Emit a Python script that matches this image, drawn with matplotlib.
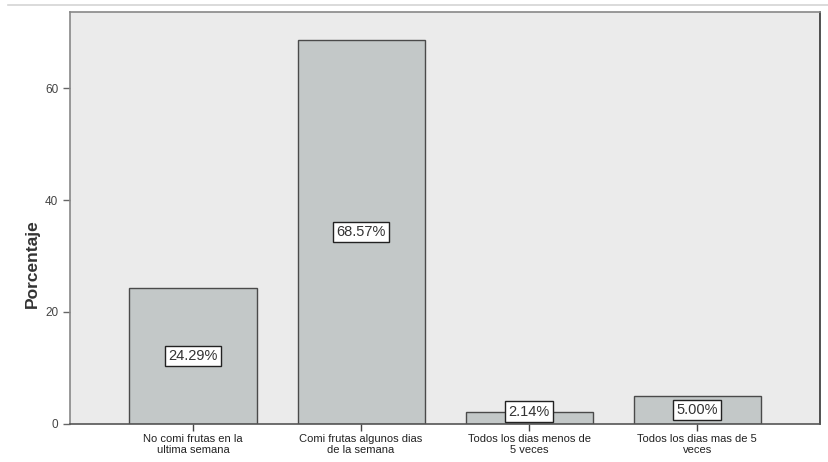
import matplotlib
matplotlib.use('Agg')
import matplotlib.pyplot as plt
from matplotlib.lines import Line2D

plt.rcParams['font.family'] = ['Liberation Sans', 'DejaVu Sans']

categorias = ['No comi frutas en la\nultima semana',
              'Comi frutas algunos dias\nde la semana',
              'Todos los dias menos de\n5 veces',
              'Todos los dias mas de 5\nveces']
porcentajes = [24.29, 68.57, 2.14, 5.00]

fig = plt.figure(figsize=(8.29, 4.62), dpi=100)
ax = fig.add_axes([0.0844, 0.0823, 0.905, 0.892])
ax.set_facecolor('#ebebeb')

x = range(len(categorias))
ax.bar(x, porcentajes, width=0.756, color='#c3c8c8', edgecolor='#4a4a4a', linewidth=1.0, zorder=2)

# etiquetas de porcentaje en el centro de cada barra (sin bajar del eje)
for i, v in zip(x, porcentajes):
    ax.text(i, max(v / 2, 2.2), f'{v:.2f}%', ha='center', va='center', fontsize=10.5, color='#333333', zorder=3,
            bbox=dict(boxstyle='square,pad=0.22', facecolor='white', edgecolor='#222222', linewidth=1.0))

ax.set_xlim(-0.732, 3.732)
ax.set_ylim(0, 73.6)
ax.set_yticks([0, 20, 40, 60])
ax.set_xticks(list(x))
ax.set_xticklabels(categorias, fontsize=8, color='#222222', linespacing=1.15)
ax.tick_params(axis='y', labelsize=8.5, labelcolor='#444444', color='#666666', length=5, width=1)
ax.tick_params(axis='x', color='#444444', length=5, width=1, pad=2)

ax.set_ylabel('Porcentaje', fontsize=12.5, fontweight='bold', color='#333333')
ax.yaxis.set_label_coords(-0.04, 0.39)

ax.spines['left'].set_color('#888888')
ax.spines['top'].set_color('#888888')
ax.spines['bottom'].set_color('#555555')
ax.spines['right'].set_color('#333333')
for s in ax.spines.values():
    s.set_linewidth(1.2)

# linea superior de la figura
fig.add_artist(Line2D([0.01, 1.0], [0.989, 0.989], color='#d4d4d4', linewidth=1.2))

fig.savefig('out.png', dpi=100)
